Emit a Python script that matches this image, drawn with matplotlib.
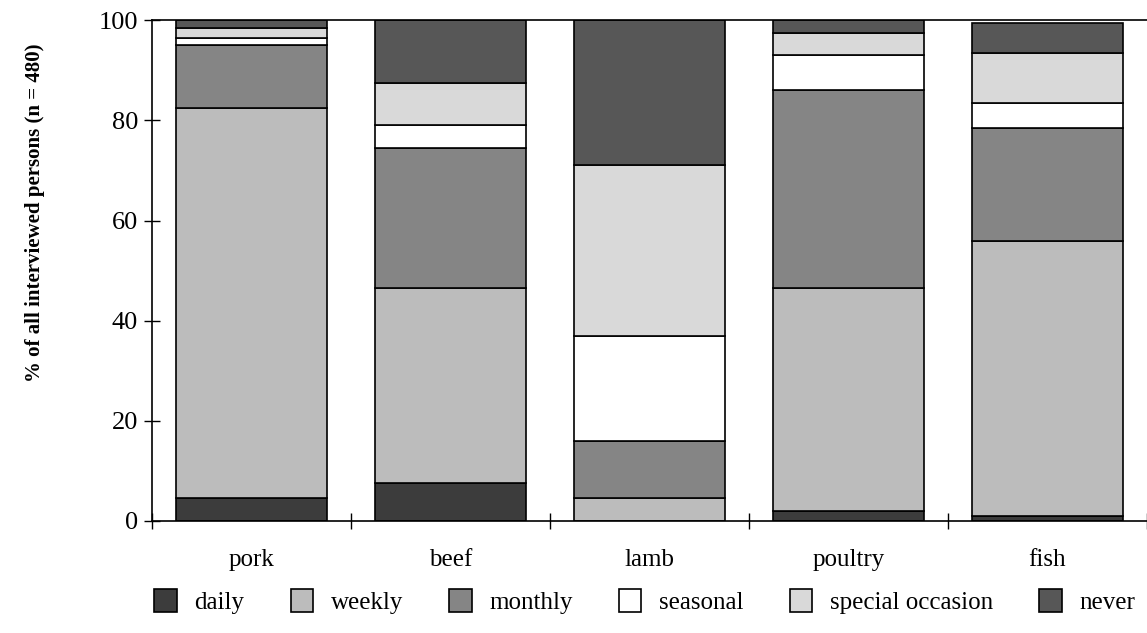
import matplotlib
matplotlib.use("Agg")
import matplotlib.pyplot as plt
import numpy as np

categories = ["pork", "beef", "lamb", "poultry", "fish"]
series_names = ["daily", "weekly", "monthly", "seasonal", "special occasion", "never"]
daily = [4.5, 7.5, 0.0, 2.0, 1.0]
weekly = [78.0, 39.0, 4.5, 44.5, 55.0]
monthly = [12.5, 28.0, 11.5, 39.5, 22.5]
seasonal = [1.5, 4.5, 21.0, 7.0, 5.0]
special = [2.0, 8.5, 34.0, 4.5, 10.0]
never = [1.5, 12.5, 29.0, 2.5, 6.0]
yticks = [0, 20, 40, 60, 80, 100]

colors = ["#3c3c3c", "#bcbcbc", "#858585", "#ffffff", "#d9d9d9", "#575757"]

plt.rcParams['font.family'] = ['Liberation Serif', 'DejaVu Serif']
fig = plt.figure(figsize=(11.47, 6.33), dpi=100)
ax = fig.add_axes([0.1325, 0.177, 0.8675, 0.791])

x = np.arange(len(categories))
bottom = np.zeros(len(categories))
handles = []
for name, vals, c in zip(series_names, [daily, weekly, monthly, seasonal, special, never], colors):
    vals = np.array(vals)
    b = ax.bar(x, vals, bottom=bottom, width=0.76, color=c, edgecolor="black", linewidth=1.2, label=name)
    handles.append(b)
    bottom += vals

ax.set_xlim(-0.5, 4.5)
ax.set_ylim(0, 100)
ax.set_yticks(yticks)
ax.set_yticklabels([str(v) for v in yticks], fontsize=19)
ax.set_xticks(np.arange(-0.5, 4.6, 1.0))
ax.set_xticklabels([])
ax.set_xticks(x, minor=True)
ax.set_xticklabels(categories, minor=True, fontsize=18)
ax.tick_params(axis='x', which='minor', length=0, pad=20)
ax.tick_params(axis='x', which='major', direction='inout', length=12, width=1)
ax.tick_params(axis='y', direction='inout', length=12, width=1, pad=4)
ax.spines['right'].set_visible(False)
for s in ['left', 'top', 'bottom']:
    ax.spines[s].set_linewidth(1.2)
ax.set_ylabel("% of all interviewed persons (n = 480)", fontsize=15, fontweight='bold', labelpad=40)
ax.yaxis.set_label_coords(-0.108, 0.615)

fig.legend(handles=handles, labels=series_names, loc='lower center', ncol=6, frameon=False,
           fontsize=18, bbox_to_anchor=(0.562, -0.005), handlelength=0.9, handleheight=1.05,
           columnspacing=1.85, handletextpad=0.7)

fig.savefig("out.png", dpi=100)
